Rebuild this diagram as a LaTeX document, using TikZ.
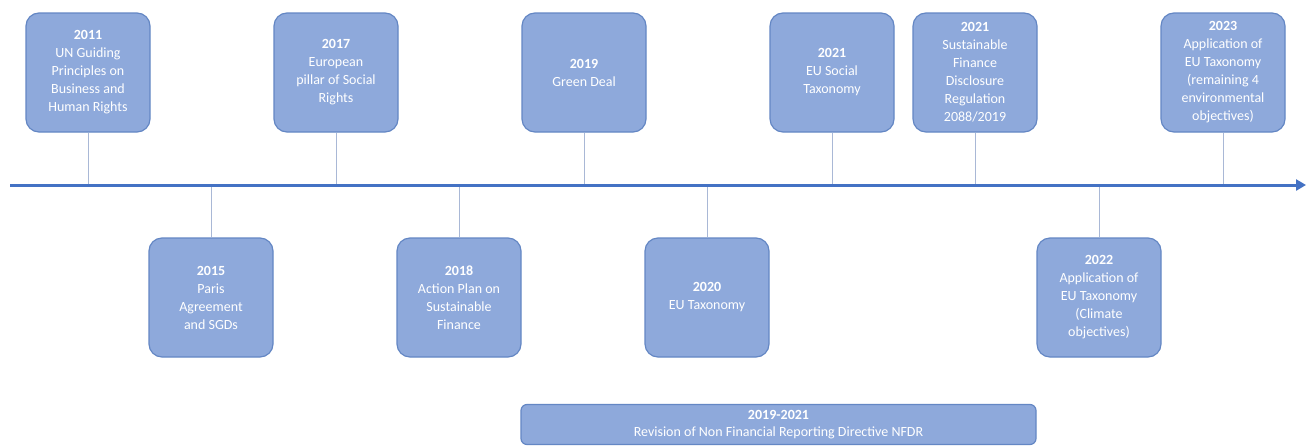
\documentclass[tikz,border=0pt]{standalone}
\usepackage{fontspec}
\setmainfont{Carlito}
\usetikzlibrary{arrows.meta}
\definecolor{boxfill}{HTML}{8EA9DB}
\definecolor{boxline}{HTML}{6487C4}
\definecolor{axis}{HTML}{4472C4}
\definecolor{tick}{HTML}{A9B8D6}
\tikzset{
  event/.style={draw=boxline, line width=1.2pt, fill=boxfill, rounded corners=13pt,
    minimum width=124pt, minimum height=119pt, align=center,
    text=white, font=\fontsize{14}{18}\selectfont, inner sep=0pt},
  wide/.style={draw=boxline, line width=1.2pt, fill=boxfill, rounded corners=6pt,
    minimum width=515pt, minimum height=40pt, align=center,
    text=white, font=\fontsize{14}{17}\selectfont, inner sep=0pt},
  stem/.style={draw=tick, line width=0.9pt},
  axisline/.style={draw=axis, line width=3pt, -{Triangle[length=10pt,width=11pt]}}
}
\begin{document}
\begin{tikzpicture}[x=1pt,y=-1pt]
\useasboundingbox[fill=white] (0,0) rectangle (1308,447);
% axis anchor coordinates
\coordinate (start) at (10,185);
\coordinate (end) at (1306,185);
\coordinate (t2011) at (88,185);
\coordinate (t2017) at (336,185);
\coordinate (t2019) at (584,185);
\coordinate (t2021a) at (832,185);
\coordinate (t2021b) at (975,185);
\coordinate (t2023) at (1223,185);
\coordinate (t2015) at (211,185);
\coordinate (t2018) at (459,185);
\coordinate (t2020) at (707,185);
\coordinate (t2022) at (1099,185);
% top events
\node[event] (e2011) at (88,72.5) {\textbf{2011}\\UN Guiding\\Principles on\\Business and\\Human Rights};
\node[event] (e2017) at (336,72.5) {\textbf{2017}\\European\\pillar of Social\\Rights};
\node[event] (e2019) at (584,72.5) {\textbf{2019}\\Green Deal};
\node[event] (e2021a) at (832,72.5) {\textbf{2021}\\EU Social\\Taxonomy};
\node[event] (e2021b) at (975,72.5) {\textbf{2021}\\Sustainable\\Finance\\Disclosure\\Regulation\\2088/2019};
\node[event] (e2023) at (1223,72.5) {\textbf{2023}\\Application of\\EU Taxonomy\\(remaining 4\\environmental\\objectives)};
% bottom events
\node[event] (e2015) at (211,297.5) {\textbf{2015}\\Paris\\Agreement\\and SGDs};
\node[event] (e2018) at (459,297.5) {\textbf{2018}\\Action Plan on\\Sustainable\\Finance};
\node[event] (e2020) at (707,297.5) {\textbf{2020}\\EU Taxonomy};
\node[event] (e2022) at (1099,297.5) {\textbf{2022}\\Application of\\EU Taxonomy\\(Climate\\objectives)};
\foreach \n in {2011,2017,2019,2021a,2021b,2023}{
  \draw[stem] (e\n.south) -- (t\n);
}
\foreach \n in {2015,2018,2020,2022}{
  \draw[stem] (t\n) -- (e\n.north);
}
% timeline
\draw[axisline] (start) -- (end);
% bottom bar
\node[wide] (nfrd) at (778.5,424.5) {\textbf{2019-2021}\\Revision of Non Financial Reporting Directive NFDR};
\end{tikzpicture}
\end{document}
